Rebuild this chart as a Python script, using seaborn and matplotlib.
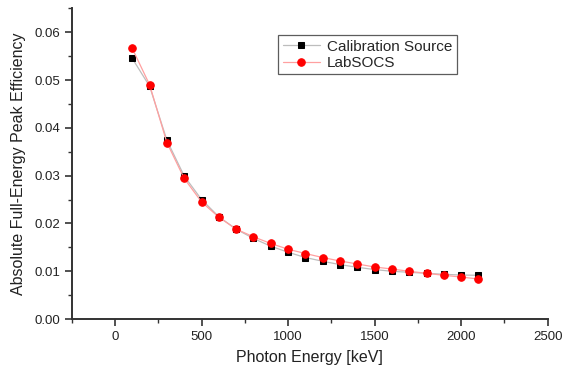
import matplotlib
matplotlib.use("Agg")
import matplotlib.pyplot as plt
from matplotlib.ticker import MultipleLocator
import seaborn as sns
import pandas as pd

energy = [100, 200, 300, 400, 500, 600, 700, 800, 900, 1000, 1100,
          1200, 1300, 1400, 1500, 1600, 1700, 1800, 1900, 2000, 2100]
calibration = [0.0545, 0.0487, 0.0374, 0.0299, 0.0250, 0.0214, 0.0188,
               0.01685, 0.01523, 0.01397, 0.01286, 0.01208, 0.01138,
               0.01082, 0.01034, 0.00998, 0.00977, 0.00956, 0.00935,
               0.0092, 0.00914]
labsocs = [0.0566, 0.0490, 0.0369, 0.0294, 0.0245, 0.0213, 0.0188,
           0.0172, 0.0158, 0.0146, 0.0137, 0.01286, 0.01214, 0.01151,
           0.01088, 0.01046, 0.00998, 0.00956, 0.00914, 0.00878, 0.00836]
series_names = ["Calibration Source", "LabSOCS"]

sns.set_style("ticks")
plt.rcParams['font.family'] = ['Liberation Sans', 'DejaVu Sans']

df_cal = pd.DataFrame({"x": energy, "y": calibration})
df_lab = pd.DataFrame({"x": energy, "y": labsocs})

fig = plt.figure(figsize=(5.62, 3.69), dpi=100)
ax = fig.add_axes([0.1276, 0.1355, 0.8469, 0.842])

sns.lineplot(data=df_cal, x="x", y="y", ax=ax, color="#bdbdbd", lw=0.9,
             marker="s", markersize=4.8, markerfacecolor="black",
             markeredgecolor="black", label=series_names[0], zorder=3)
sns.lineplot(data=df_lab, x="x", y="y", ax=ax, color="#ffa0a0", lw=0.9,
             marker="o", markersize=5.4, markerfacecolor="#ff0000",
             markeredgecolor="#ff0000", label=series_names[1], zorder=4)

ax.set_xlim(-250, 2500)
ax.set_ylim(0, 0.065)
ax.xaxis.set_major_locator(MultipleLocator(500))
ax.xaxis.set_minor_locator(MultipleLocator(250))
ax.yaxis.set_major_locator(MultipleLocator(0.01))
ax.yaxis.set_minor_locator(MultipleLocator(0.005))
ax.yaxis.set_major_formatter(matplotlib.ticker.FormatStrFormatter('%.2f'))

for s in ["top", "right"]:
    ax.spines[s].set_visible(False)
for s in ["left", "bottom"]:
    ax.spines[s].set_linewidth(1.4)
    ax.spines[s].set_color("#333333")

ax.tick_params(which="major", direction="out", length=5, width=1.2,
               colors="#333333", labelsize=9.5, labelcolor="#222222")
ax.tick_params(which="minor", direction="out", length=3, width=1.0,
               colors="#333333")

ax.set_xlabel("Photon Energy [keV]", fontsize=11.5, color="#222222", labelpad=5)
ax.set_ylabel("Absolute Full-Energy Peak Efficiency", fontsize=11.5,
              color="#222222", labelpad=6)

leg = ax.legend(loc="upper left", bbox_to_anchor=(0.434, 0.914),
                frameon=True, fancybox=False, fontsize=11,
                handlelength=2.4, borderpad=0.3, labelspacing=0.15,
                handletextpad=0.5, borderaxespad=0)
leg.get_frame().set_edgecolor("#333333")
leg.get_frame().set_linewidth(0.9)

fig.savefig("out.png", dpi=100)
